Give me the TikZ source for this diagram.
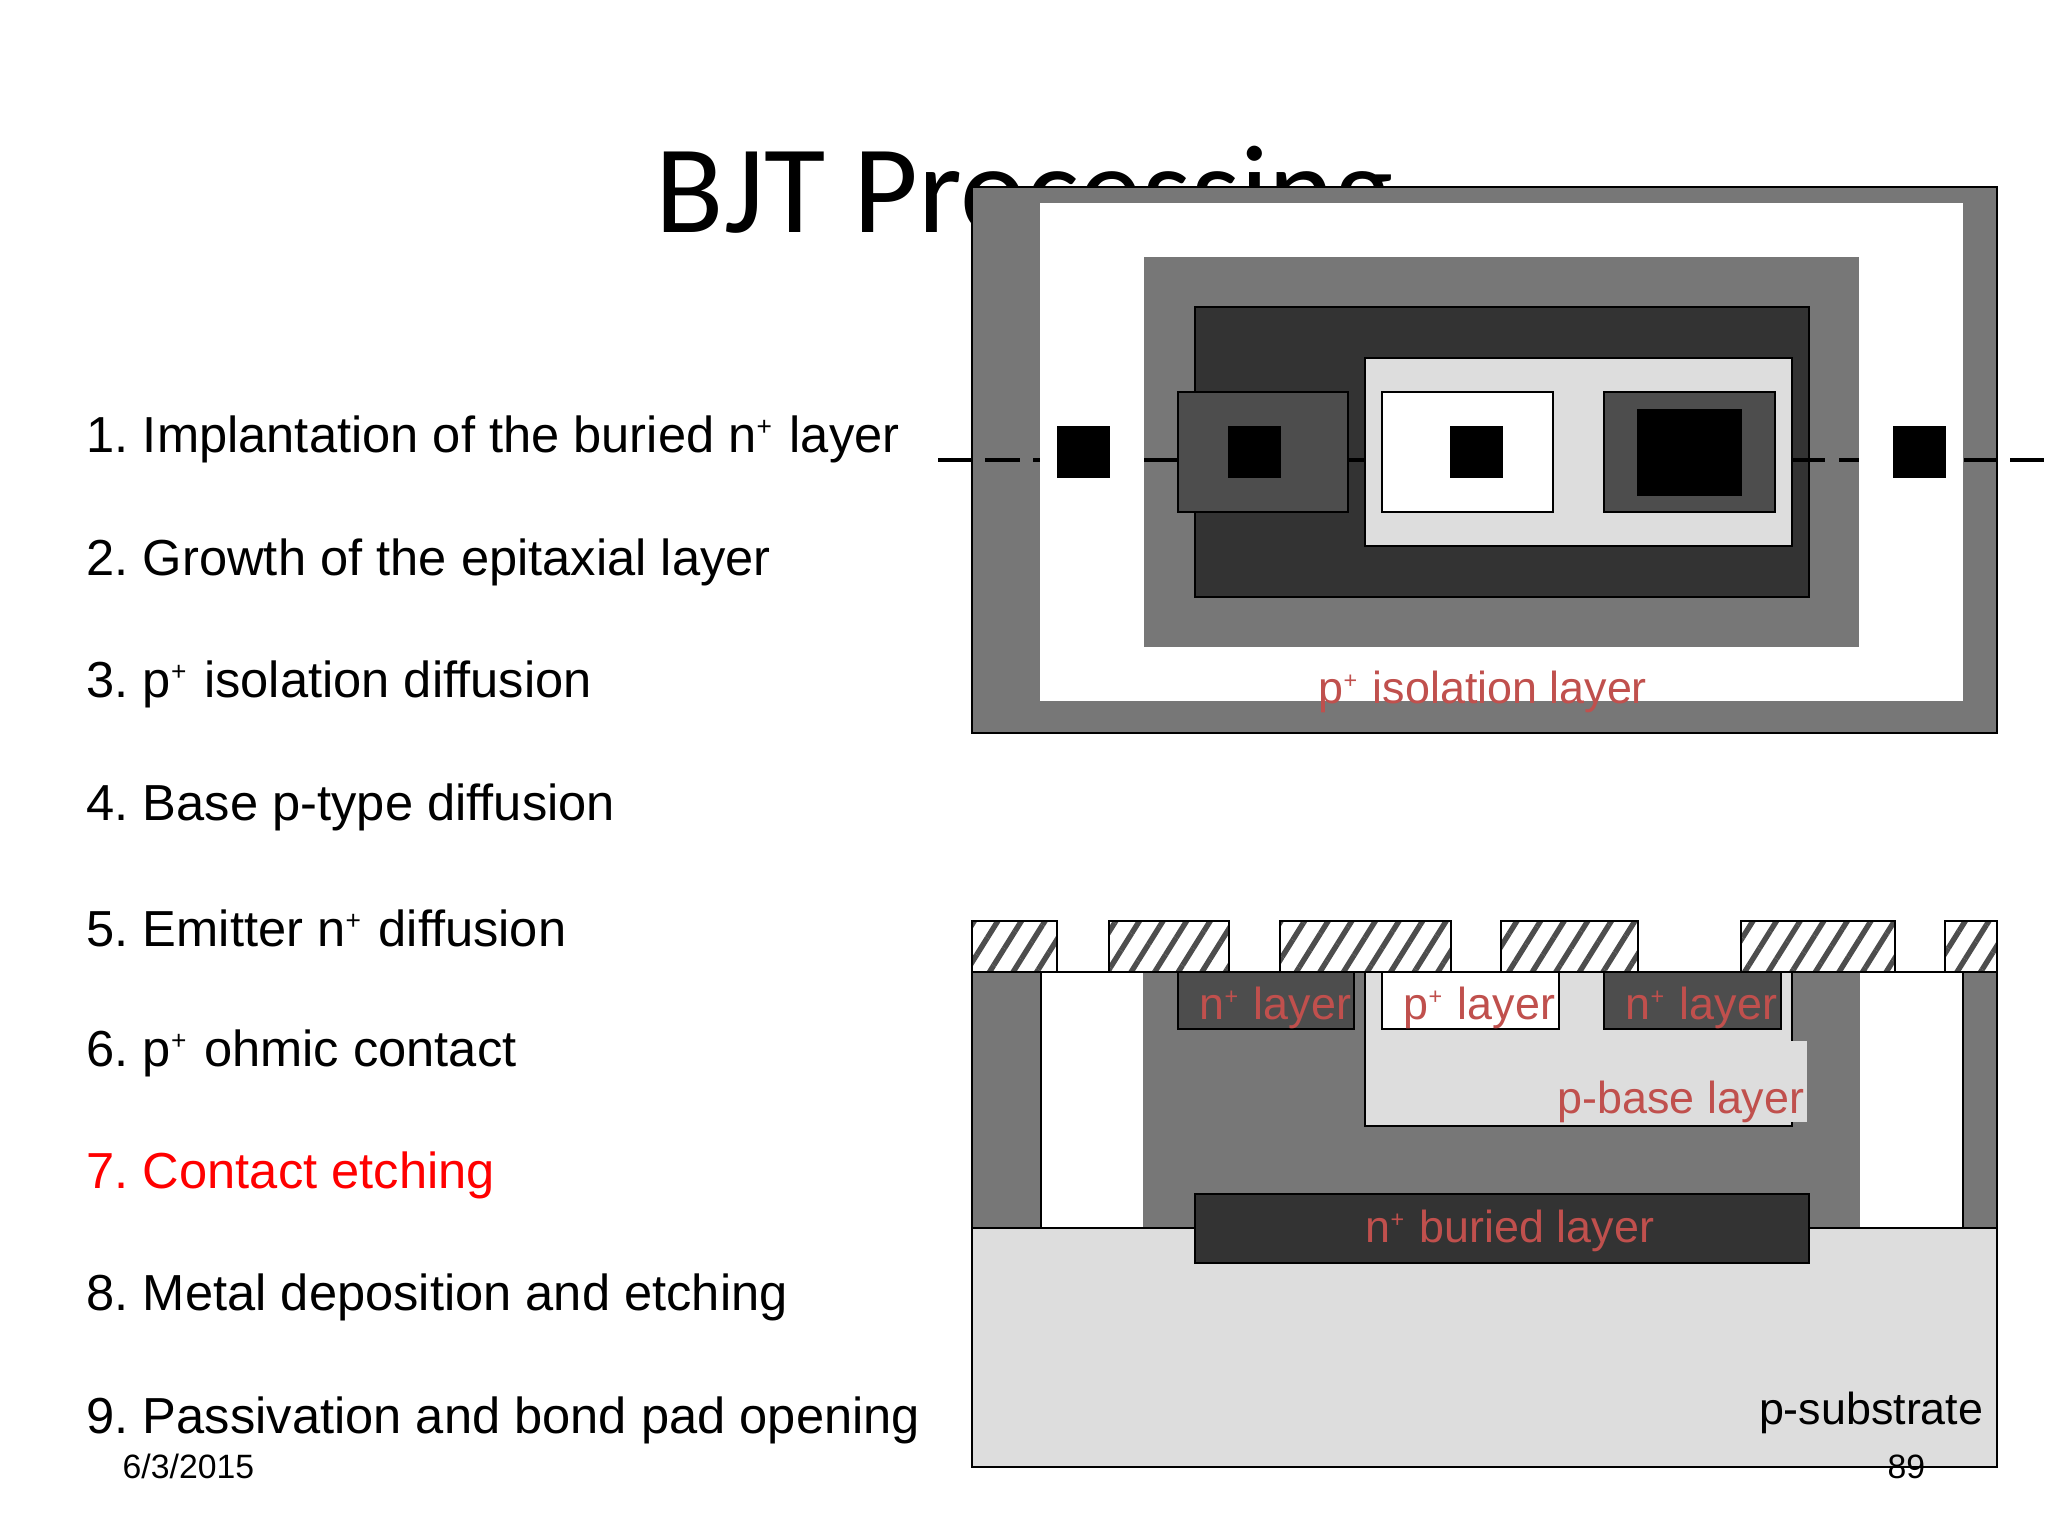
\documentclass[tikz,border=0pt]{standalone}
\usepackage{fontspec}
\setmainfont{Liberation Sans}
\newfontfamily\titlefont{Carlito}
\usepackage{tikz}
\usetikzlibrary{patterns.meta}

\definecolor{isogray}{HTML}{777777}
\definecolor{burieddark}{HTML}{333333}
\definecolor{emitdark}{HTML}{4D4D4D}
\definecolor{baselight}{HTML}{DDDDDD}
\definecolor{labelred}{HTML}{C0504D}
\newcommand{\supplus}{\raisebox{0.62ex}{\scalebox{0.52}{+}}\kern0.07em}
\frenchspacing

\begin{document}
\begin{tikzpicture}[x=0.01cm,y=-0.01cm]
        \tikzset{listitem/.style = {anchor=base west,inner sep=0pt,font=\fontsize{14.4}{16}\selectfont}}
        \tikzset{layerlabel/.style = {anchor=base west,inner sep=0pt,text=labelred,font=\fontsize{12.75}{15}\selectfont}}
        \tikzset{footer/.style = {anchor=base west,inner sep=0pt,font=\fontsize{9.6}{11}\selectfont}}
        \tikzset{layer/.style = {draw=black,line width=0.5pt}}
        \tikzset{hatchmask/.style = {layer,pattern={Lines[angle=58,distance=0.2cm,line width=0.054cm]},pattern color=emitdark}}
        \tikzset{cutline/.style = {black,line width=1.1pt}}
        \useasboundingbox (0,0) rectangle (2048,1536);
        \fill[white] (0,0) rectangle (2048,1536);
        % title and list
        \node[anchor=base west,inner sep=0pt,font=\titlefont\fontsize{35.7}{40}\selectfont] (title) at (655,232) {BJT Processing};
        \node[listitem] (item1) at (86,452) {1. Implantation of the buried n\supplus{} layer};
        \node[listitem] (item2) at (86,575) {2. Growth of the epitaxial layer};
        \node[listitem] (item3) at (86,697) {3. p\supplus{} isolation diffusion};
        \node[listitem] (item4) at (86,820) {4. Base p-type diffusion};
        \node[listitem] (item5) at (86,946) {5. Emitter n\supplus{} diffusion};
        \node[listitem] (item6) at (86,1066) {6. p\supplus{} ohmic contact};
        \node[listitem,text=red] (item7) at (86,1188) {7. Contact etching};
        \node[listitem] (item8) at (86,1310) {8. Metal deposition and etching};
        \node[listitem] (item9) at (86,1433) {9. Passivation and bond pad opening};
        \node[footer] (date) at (122,1478) {6/3/2015};
        % top view
        \draw[layer,fill=isogray] (972,187) rectangle (1997,733);
        \fill[white] (1040,203) rectangle (1963,701);
        \fill[isogray] (1144,257) rectangle (1859,647);
        \draw[layer,fill=burieddark] (1195,307) rectangle (1809,597);
        \foreach \xa/\xb in {938/972,985/1020,1033/1040,1144/1178,1348/1365,1792/1825,1839/1859,1964/1997,2010/2044}
            \draw[cutline] (\xa,460) -- (\xb,460);
        \draw[layer,fill=baselight] (1365,358) rectangle (1792,546);
        \draw[layer,fill=emitdark] (1178,392) rectangle (1348,512);
        \draw[layer,fill=white] (1382,392) rectangle (1553,512);
        \draw[layer,fill=emitdark] (1604,392) rectangle (1775,512);
        \fill[black] (1057,426) rectangle (1110,478);
        \fill[black] (1228,426) rectangle (1281,478);
        \fill[black] (1450,426) rectangle (1503,478);
        \fill[black] (1637,409) rectangle (1742,496);
        \fill[black] (1893,426) rectangle (1946,478);
        \node[layerlabel] (isolabel) at (1318,703) {p\supplus{} isolation layer};
        % cross section
        \foreach \xa/\xb in {972/1057,1109/1229,1280/1451,1501/1638,1741/1895,1945/1997}
            \draw[hatchmask] (\xa,921) rectangle (\xb,972);
        \draw[layer,fill=isogray] (972,972) rectangle (1997,1228);
        \fill[white] (1041,972) rectangle (1143,1228);
        \fill[white] (1860,972) rectangle (1963,1228);
        \draw[layer] (1041,972) -- (1041,1228);
        \draw[layer] (1963,972) -- (1963,1228);
        \draw[layer,fill=baselight] (972,1228) rectangle (1997,1467);
        \draw[layer,fill=burieddark] (1195,1194) rectangle (1809,1263);
        \draw[layer,fill=baselight] (1365,972) rectangle (1792,1126);
        \draw[layer,fill=emitdark] (1178,972) rectangle (1354,1029);
        \draw[layer,fill=white] (1382,972) rectangle (1559,1029);
        \draw[layer,fill=emitdark] (1604,972) rectangle (1781,1029);
        \draw[layer] (972,972) -- (1997,972);
        \node[layerlabel] (nleft) at (1199,1019) {n\supplus{} layer};
        \node[layerlabel] (pcontact) at (1403,1019) {p\supplus{} layer};
        \node[layerlabel] (nright) at (1625,1019) {n\supplus{} layer};
        \node[layerlabel,anchor=base east,fill=baselight,inner xsep=0.03cm,text height=0.72cm,text depth=0.09cm] (pbase) at (1808,1113) {p-base layer};
        \node[layerlabel] (nburied) at (1365,1242) {n\supplus{} buried layer};
        \node[layerlabel,text=black,anchor=base east] (psub) at (1984,1424) {p-substrate};
        \node[footer] (pagenum) at (1887,1478) {89};
\end{tikzpicture}
\end{document}
